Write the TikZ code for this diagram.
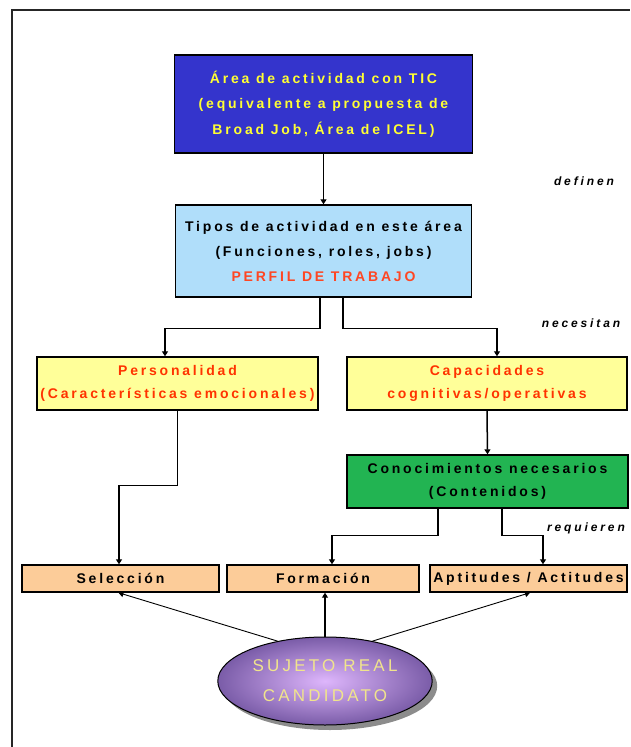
\documentclass[tikz,border=0pt]{standalone}
\usepackage{fontspec}
\setmainfont{Liberation Sans}
\newfontfamily\spfont[LetterSpace=20]{Liberation Sans}
\newfontfamily\spital[LetterSpace=24]{Liberation Sans}
\newfontfamily\spell[LetterSpace=19]{Liberation Sans}
\usetikzlibrary{arrows.meta,shapes.geometric,shadows}
\definecolor{topblue}{RGB}{52,52,204}
\definecolor{topyel}{RGB}{255,255,51}
\definecolor{lblue}{RGB}{176,222,250}
\definecolor{lyel}{RGB}{255,255,153}
\definecolor{redtxt}{RGB}{255,51,0}
\definecolor{perfil}{RGB}{255,70,34}
\definecolor{gbox}{RGB}{34,180,82}
\definecolor{peach}{RGB}{252,204,153}
\definecolor{ellin}{RGB}{222,182,252}
\definecolor{ellout}{RGB}{122,92,168}
\definecolor{elltxt}{RGB}{240,228,140}
\begin{document}
\begin{tikzpicture}[x=1pt,y=-1pt,
  box/.style={draw=black, line width=1.4pt, inner sep=0pt, align=center,
    font=\fontsize{14}{22.5}\spfont\bfseries},
  arr/.style={line width=1.5pt, -{Triangle[width=6pt,length=5pt]}},
  thinarr/.style={line width=0.9pt, -{Triangle[width=6pt,length=5pt]}},
  lbl/.style={font=\fontsize{12}{14}\spital\bfseries\itshape, inner sep=0pt}]
\useasboundingbox (0,0) rectangle (630,747);
\draw[line width=1.5pt, black!85] (12,747) -- (12,10) -- (630,10);

\node[box, fill=topblue, text=topyel, minimum width=298, minimum height=98,
  font=\fontsize{14}{25.5}\spfont\bfseries] (top) at (323.5,104)
  {Área de actividad con TIC\\(equivalente a propuesta de\\Broad Job, Área de ICEL)};
\node[box, fill=lblue, minimum width=296, minimum height=92,
  font=\fontsize{14}{25}\spfont\bfseries] (lb) at (323.5,251)
  {Tipos de actividad en este área\\(Funciones, roles, jobs)\\{\color{perfil}PERFIL DE TRABAJO}};
\node[box, fill=lyel, text=redtxt, minimum width=281, minimum height=53] (pers) at (177.5,383.5)
  {Personalidad\\(Características emocionales)};
\node[box, fill=lyel, text=redtxt, minimum width=280, minimum height=53] (cap) at (487,383.5)
  {Capacidades\\cognitivas/operativas};
\node[box, fill=gbox, minimum width=281, minimum height=53] (con) at (487.5,481.5)
  {Conocimientos necesarios\\(Contenidos)};
\node[box, fill=peach, minimum width=197, minimum height=27] (sel) at (120.5,578.5) {Selección};
\node[box, fill=peach, minimum width=192, minimum height=27] (form) at (323,578.5) {Formación};
\node[box, fill=peach, minimum width=197, minimum height=27] (apt) at (528.5,578.5) {Aptitudes / Actitudes};

\node[ellipse, draw=black, line width=1pt, minimum width=210, minimum height=88,
  inner color=ellin, outer color=ellout, text=elltxt, align=center,
  font=\fontsize{17}{30}\spell,
  drop shadow={shadow xshift=5pt, shadow yshift=-5pt, fill=black!45, opacity=1}] (ell) at (325,681)
  {SUJETO REAL\\CANDIDATO};

\node[lbl] (l1) at (584,181) {definen};
\node[lbl] (l2) at (581,323) {necesitan};
\node[lbl] (l3) at (586,528) {requieren};

\draw[arr] (top.south) -- (lb.north);
\draw[arr] ([xshift=-3.5pt]lb.south) -- ++(0,31) -| ([xshift=-12.5pt]pers.north);
\draw[arr] ([xshift=19.5pt]lb.south) -- ++(0,31) -| ([xshift=10pt]cap.north);
\draw[arr] (pers.south) -- ++(0,75) -| ([xshift=-1.5pt]sel.north);
\draw[arr] (cap.south) -- (con.north);
\draw[arr] ([xshift=-49.5pt]con.south) -- ++(0,27) -| ([xshift=9pt]form.north);
\draw[arr] ([xshift=14.5pt]con.south) -- ++(0,27) -| ([xshift=14.5pt]apt.north);

\draw[thinarr] (ell.140) -- ([xshift=-2pt]sel.south);
\draw[arr] (ell.north) -- (ell.north |- form.south);
\draw[thinarr] (ell.40) -- ([xshift=1.5pt]apt.south);
\end{tikzpicture}
\end{document}
